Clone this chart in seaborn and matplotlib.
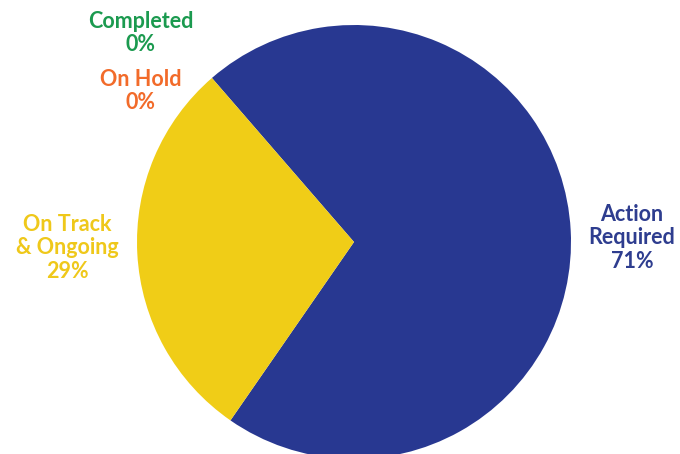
import matplotlib
matplotlib.use("Agg")
import matplotlib.pyplot as plt
import seaborn as sns

# Status breakdown (percent of items)
statuses = ["Action\nRequired", "On Track\n& Ongoing", "On Hold", "Completed"]
shares = [71, 29, 0, 0]
colors = ["#283891", "#f0cd17", "#f26b2a", "#1b9a4f"]
label_colors = ["#2e3d8f", "#efc81a", "#f26b2a", "#1b9a4f"]

sns.set_style("white")
plt.rcParams["font.family"] = ["Lato", "DejaVu Sans"]

fig = plt.figure(figsize=(6.8, 4.54), dpi=100)
ax = fig.add_axes([137 / 680, (454 - 242 - 217) / 454, 434 / 680, 434 / 454])

ax.pie(shares, colors=sns.color_palette(colors), startangle=235.3,
       counterclock=True, radius=1.0,
       wedgeprops=dict(linewidth=0, antialiased=True))
ax.set_xlim(-1, 1)
ax.set_ylim(-1, 1)
ax.set_aspect("equal")
ax.axis("off")

# label anchor points (pixel centres of each text block)
label_pos = [(632, 238), (67, 248), (141, 91), (141, 33)]
for name, val, col, (px, py) in zip(statuses, shares, label_colors, label_pos):
    fig.text(px / 680, 1 - py / 454, f"{name}\n{val}%", color=col,
             ha="center", va="center", fontsize=15.5, fontweight="bold",
             linespacing=1.12)

fig.savefig("out.png", dpi=100)
